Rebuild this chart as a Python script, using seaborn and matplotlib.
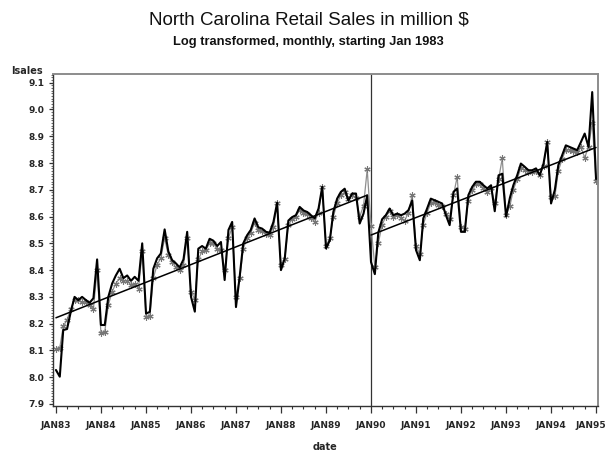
import numpy as np
import pandas as pd
import matplotlib
matplotlib.use("Agg")
import matplotlib.pyplot as plt
import matplotlib.ticker as mticker
import matplotlib.transforms as mtransforms
import seaborn as sns

# ---------------- data ----------------
start_month = "1983-01-01"

lsales = [
    8.027, 8.002, 8.176, 8.180, 8.244, 8.300, 8.288, 8.300, 8.288, 8.278, 8.295, 8.440,  # 1983
    8.195, 8.195, 8.300, 8.350, 8.380, 8.405, 8.370, 8.380, 8.360, 8.375, 8.360, 8.500,  # 1984
    8.238, 8.244, 8.405, 8.444, 8.462, 8.552, 8.470, 8.437, 8.425, 8.410, 8.440, 8.543,  # 1985
    8.300, 8.245, 8.480, 8.490, 8.480, 8.517, 8.510, 8.490, 8.505, 8.363, 8.550, 8.580,  # 1986
    8.262, 8.380, 8.500, 8.530, 8.550, 8.593, 8.560, 8.555, 8.543, 8.540, 8.580, 8.652,  # 1987
    8.400, 8.444, 8.585, 8.598, 8.605, 8.636, 8.623, 8.617, 8.605, 8.593, 8.630, 8.711,  # 1988
    8.481, 8.512, 8.617, 8.667, 8.692, 8.704, 8.660, 8.686, 8.686, 8.574, 8.611, 8.679,  # 1989
    8.430, 8.385, 8.540, 8.590, 8.605, 8.630, 8.605, 8.611, 8.605, 8.611, 8.624, 8.660,  # 1990
    8.475, 8.437, 8.593, 8.630, 8.667, 8.661, 8.655, 8.649, 8.605, 8.568, 8.692, 8.705,  # 1991
    8.543, 8.543, 8.680, 8.711, 8.730, 8.730, 8.717, 8.705, 8.717, 8.620, 8.754, 8.760,  # 1992
    8.600, 8.670, 8.717, 8.754, 8.798, 8.786, 8.773, 8.773, 8.780, 8.754, 8.798, 8.879,  # 1993
    8.649, 8.700, 8.792, 8.829, 8.866, 8.860, 8.854, 8.848, 8.879, 8.910, 8.860, 9.065,  # 1994
    8.740,                                                                               # 1995
]

predicted = [
    8.105, 8.110, 8.190, 8.215, 8.255, 8.290, 8.290, 8.280, 8.280, 8.270, 8.255, 8.400,  # 1983
    8.165, 8.170, 8.270, 8.320, 8.350, 8.370, 8.360, 8.360, 8.345, 8.350, 8.330, 8.470,  # 1984
    8.225, 8.230, 8.370, 8.420, 8.445, 8.520, 8.455, 8.430, 8.410, 8.400, 8.420, 8.520,  # 1985
    8.320, 8.290, 8.440, 8.470, 8.475, 8.500, 8.500, 8.480, 8.475, 8.400, 8.520, 8.560,  # 1986
    8.300, 8.370, 8.480, 8.520, 8.540, 8.575, 8.550, 8.545, 8.535, 8.530, 8.560, 8.650,  # 1987
    8.420, 8.440, 8.570, 8.590, 8.600, 8.625, 8.615, 8.610, 8.595, 8.580, 8.615, 8.711,  # 1988
    8.490, 8.520, 8.600, 8.650, 8.680, 8.690, 8.665, 8.680, 8.670, 8.600, 8.640, 8.776,  # 1989
    8.565, 8.412, 8.500, 8.570, 8.600, 8.620, 8.600, 8.605, 8.595, 8.585, 8.615, 8.680,  # 1990
    8.490, 8.460, 8.570, 8.615, 8.650, 8.655, 8.645, 8.640, 8.610, 8.590, 8.680, 8.748,  # 1991
    8.560, 8.555, 8.660, 8.700, 8.720, 8.720, 8.705, 8.692, 8.705, 8.650, 8.740, 8.817,  # 1992
    8.606, 8.640, 8.700, 8.740, 8.780, 8.775, 8.765, 8.765, 8.770, 8.754, 8.790, 8.880,  # 1993
    8.674, 8.675, 8.770, 8.815, 8.850, 8.850, 8.845, 8.840, 8.860, 8.820, 8.860, 8.950,  # 1994
    8.732,                                                                               # 1995
]

trend_pre_dates = ["1983-01-01", "1989-12-01"]
trend_pre_vals = [8.222, 8.680]
trend_post_dates = ["1990-01-01", "1995-01-01"]
trend_post_vals = [8.531, 8.858]

intervention_date = "1990-01-01"

year_tick_dates = ["1983-01-01", "1984-01-01", "1985-01-01", "1986-01-01", "1987-01-01",
                   "1988-01-01", "1989-01-01", "1990-01-01", "1991-01-01", "1992-01-01",
                   "1993-01-01", "1994-01-01", "1995-01-01"]
year_tick_labels = ["JAN83", "JAN84", "JAN85", "JAN86", "JAN87", "JAN88", "JAN89",
                    "JAN90", "JAN91", "JAN92", "JAN93", "JAN94", "JAN95"]
y_tick_values = [7.9, 8.0, 8.1, 8.2, 8.3, 8.4, 8.5, 8.6, 8.7, 8.8, 8.9, 9.0, 9.1]
y_tick_labels = ["7.9", "8.0", "8.1", "8.2", "8.3", "8.4", "8.5", "8.6", "8.7", "8.8",
                 "8.9", "9.0", "9.1"]

title_text = "North Carolina Retail Sales in million $"
subtitle_text = "Log transformed, monthly, starting Jan 1983"

# ---------------- figure ----------------
dates = pd.date_range(start_month, periods=len(lsales), freq="MS")
df = pd.DataFrame({"date": dates, "lsales": lsales, "predicted": predicted})

sns.set_style("ticks")
W, H = 608, 451
fig = plt.figure(figsize=(W / 100, H / 100), dpi=100)
ax = fig.add_axes([53 / W, 1 - 406 / H, 545 / W, 332 / H])

sns.lineplot(data=df, x="date", y="predicted", ax=ax, color="#8f8f8f", lw=0.9,
             marker=(6, 2, 0), markersize=4.5, markeredgecolor="#777777",
             markeredgewidth=0.8, zorder=2)
sns.lineplot(data=df, x="date", y="lsales", ax=ax, color="black", lw=1.5, zorder=3)
ax.plot(pd.to_datetime(trend_pre_dates), trend_pre_vals, color="black", lw=1.1, zorder=4)
ax.plot(pd.to_datetime(trend_post_dates), trend_post_vals, color="black", lw=1.1, zorder=4)
ax.axvline(pd.Timestamp(intervention_date), color="#333333", lw=0.9, zorder=1)

# axes ranges
ax.set_xlim(pd.Timestamp("1982-12-08"), pd.Timestamp("1995-01-17"))
ax.set_ylim(7.8925, 9.1325)

# ticks
ax.set_xticks(pd.to_datetime(year_tick_dates))
ax.set_xticklabels(year_tick_labels)
ax.set_xticks(pd.date_range("1983-04-01", "1994-10-01", freq="QS-APR").difference(
    pd.to_datetime(year_tick_dates)), minor=True)
ax.set_yticks(y_tick_values)
ax.set_yticklabels(y_tick_labels)
ax.yaxis.set_minor_locator(mticker.MultipleLocator(0.01))

ax.tick_params(axis="x", which="major", direction="out", length=5, width=0.9,
               color="#333333", pad=6, labelsize=6.5)
ax.tick_params(axis="x", which="minor", direction="out", length=2.5, width=0.8,
               color="#333333")
ax.tick_params(axis="y", which="major", direction="out", length=3, width=0.9,
               color="#333333", pad=3, labelsize=6.5)
ax.tick_params(axis="y", which="minor", direction="out", length=1.5, width=0.6,
               color="#555555")
for lab in ax.get_xticklabels() + ax.get_yticklabels():
    lab.set_fontweight("bold")
    lab.set_family("DejaVu Sans")

# keep the last date label inside the canvas edge
last_lab = ax.get_xticklabels()[-1]
last_lab.set_transform(last_lab.get_transform() +
                       mtransforms.ScaledTranslation(-5 / 100, 0, fig.dpi_scale_trans))

for side in ["left", "bottom"]:
    ax.spines[side].set_color("#333333")
    ax.spines[side].set_linewidth(1.0)
for side in ["top", "right"]:
    ax.spines[side].set_visible(True)
    ax.spines[side].set_color("#8c8c8c")
    ax.spines[side].set_linewidth(1.4)

ax.set_xlabel("")
ax.set_ylabel("")

fig.text(27 / W, 1 - 71 / H, "lsales", ha="center", va="center", fontsize=7,
         fontweight="bold", family="DejaVu Sans")
fig.text(325 / W, 1 - 447 / H, "date", ha="center", va="center", fontsize=7,
         fontweight="bold", family="DejaVu Sans")
fig.text(309 / W, 1 - 20.5 / H, title_text, ha="center", va="center", fontsize=13.5,
         family="Liberation Sans", color="#111111")
fig.text(308 / W, 1 - 42.5 / H, subtitle_text, ha="center", va="center", fontsize=9.3,
         fontweight="bold", family="Liberation Sans", color="#111111")

fig.savefig("out.png", dpi=100)
